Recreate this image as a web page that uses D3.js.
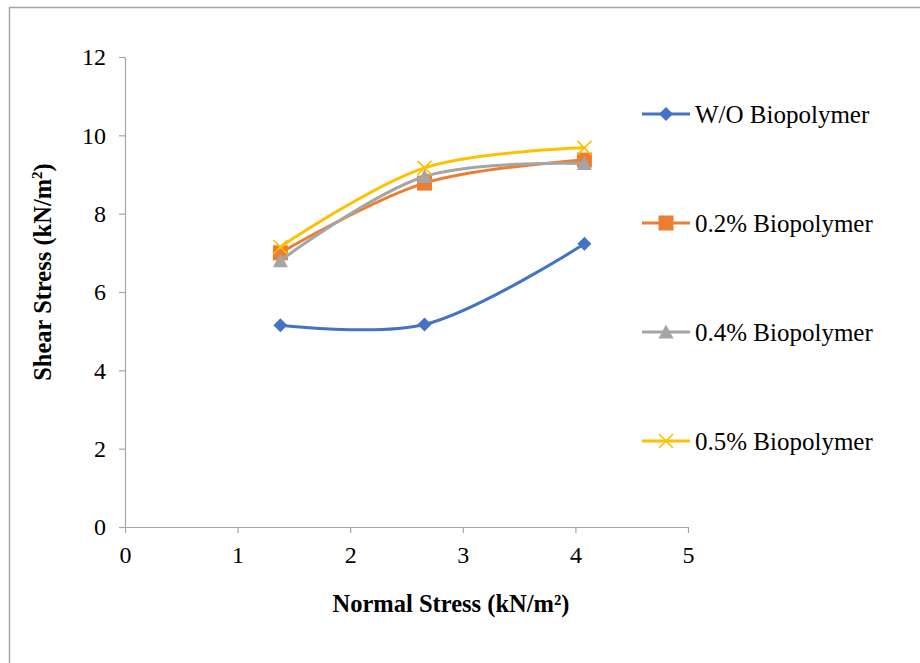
<!DOCTYPE html>
<html>
<head>
<meta charset="utf-8">
<script src="https://cdn.jsdelivr.net/npm/d3@7"></script>
<style>
  html, body { margin: 0; padding: 0; background: #fff; }
  svg { display: block; font-family: "Liberation Serif", "Times New Roman", serif; }
</style>
</head>
<body>
<svg id="chart" width="920" height="663"></svg>
<script>
// Normal stress at which each shear test was run (kN/m²)
const normalStress = [1.38, 2.66, 4.08];

// Peak shear stress (kN/m²) per mix
const seriesNames = ["W/O Biopolymer", "0.2% Biopolymer", "0.4% Biopolymer", "0.5% Biopolymer"];
const woBiopolymer = [5.15, 5.17, 7.23];
const bio02 = [7.0, 8.78, 9.37];
const bio04 = [6.8, 8.95, 9.28];
const bio05 = [7.15, 9.17, 9.68];
const seriesColors = ["#4472C4", "#ED7D31", "#A5A5A5", "#FFC000"];
const seriesMarkers = ["diamond", "square", "triangle", "cross"];

const xTicks = [0, 1, 2, 3, 4, 5];
const yTicks = [0, 2, 4, 6, 8, 10, 12];

const series = [woBiopolymer, bio02, bio04, bio05].map((vals, i) => ({
  name: seriesNames[i],
  color: seriesColors[i],
  marker: seriesMarkers[i],
  points: vals.map((v, j) => ({ x: normalStress[j], y: v }))
}));

const svg = d3.select("#chart");

// outer chart frame
svg.append("rect")
  .attr("x", 9.5).attr("y", 7.5)
  .attr("width", 1000).attr("height", 1000)
  .attr("fill", "none").attr("stroke", "#a6a6a6").attr("stroke-width", 1.5);

const x = d3.scaleLinear().domain([0, 5]).range([125, 688]);
const y = d3.scaleLinear().domain([0, 12]).range([527, 57]);

// axes
const xAxis = svg.append("g")
  .attr("transform", `translate(0,${y(0)})`)
  .call(d3.axisBottom(x).tickValues(xTicks).tickSize(6).tickSizeOuter(0).tickFormat(d3.format("d")));
const yAxis = svg.append("g")
  .attr("transform", `translate(${x(0)},0)`)
  .call(d3.axisLeft(y).tickValues(yTicks).tickSize(6).tickSizeOuter(0).tickFormat(d3.format("d")));

[xAxis, yAxis].forEach(g => {
  g.select(".domain").attr("stroke", "#a6a6a6").attr("stroke-width", 1.2);
  g.selectAll(".tick line").attr("stroke", "#a6a6a6").attr("stroke-width", 1.2);
  g.selectAll(".tick text")
    .attr("fill", "#000")
    .style("font-family", "'Liberation Serif', 'Times New Roman', serif")
    .style("font-size", "24px");
});
// x ticks hang below the axis; labels sit under them
xAxis.selectAll(".tick line").attr("y1", 0).attr("y2", 6);
xAxis.selectAll(".tick text").attr("y", 19).attr("dy", "0.71em");
yAxis.selectAll(".tick text").attr("x", -19);

// axis titles
svg.append("text")
  .attr("x", 451).attr("y", 612)
  .attr("text-anchor", "middle")
  .style("font-size", "24.5px").style("font-weight", "bold")
  .text("Normal Stress (kN/m²)");

svg.append("text")
  .attr("transform", `translate(51,272) rotate(-90)`)
  .attr("text-anchor", "middle")
  .style("font-size", "24.5px").style("font-weight", "bold")
  .html('Shear Stress (kN/m<tspan dy="-9" font-size="15">2</tspan><tspan dy="9">)</tspan>');

// smoothed series lines
const line = d3.line()
  .x(d => x(d.x))
  .y(d => y(d.y))
  .curve(d3.curveCatmullRom.alpha(0.5));

function drawMarker(g, type, color, cx, cy) {
  if (type === "diamond") {
    g.append("path")
      .attr("d", `M${cx},${cy - 7}L${cx + 7},${cy}L${cx},${cy + 7}L${cx - 7},${cy}Z`)
      .attr("fill", color);
  } else if (type === "square") {
    g.append("rect")
      .attr("x", cx - 7.5).attr("y", cy - 7.5).attr("width", 15).attr("height", 15)
      .attr("fill", color);
  } else if (type === "triangle") {
    g.append("path")
      .attr("d", `M${cx},${cy - 7.5}L${cx + 7.5},${cy + 6.5}L${cx - 7.5},${cy + 6.5}Z`)
      .attr("fill", color);
  } else if (type === "cross") {
    g.append("path")
      .attr("d", `M${cx - 7},${cy - 7}L${cx + 7},${cy + 7}M${cx + 7},${cy - 7}L${cx - 7},${cy + 7}`)
      .attr("stroke", color).attr("stroke-width", 1.6).attr("fill", "none");
  }
}

series.forEach(s => {
  const g = svg.append("g");
  g.append("path")
    .datum(s.points)
    .attr("d", line)
    .attr("fill", "none")
    .attr("stroke", s.color)
    .attr("stroke-width", 3)
    .attr("stroke-linecap", "round");
  s.points.forEach(p => drawMarker(g, s.marker, s.color, x(p.x), y(p.y)));
});

// legend
const legendY = d3.scalePoint().domain(seriesNames).range([114, 441]);
series.forEach(s => {
  const ly = legendY(s.name);
  const g = svg.append("g");
  g.append("line")
    .attr("x1", 642).attr("x2", 690).attr("y1", ly).attr("y2", ly)
    .attr("stroke", s.color).attr("stroke-width", 3);
  drawMarker(g, s.marker, s.color, 666, ly);
  g.append("text")
    .attr("x", 695).attr("y", ly)
    .attr("dy", "0.35em")
    .style("font-size", "25px")
    .text(s.name);
});
</script>
</body>
</html>
